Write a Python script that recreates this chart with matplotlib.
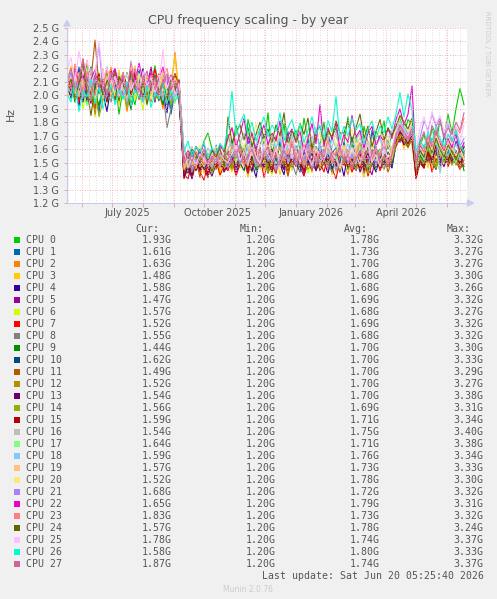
import matplotlib
matplotlib.use("Agg")
import matplotlib.pyplot as plt
import matplotlib.dates as mdates
from matplotlib.patches import Polygon, Rectangle
from datetime import datetime, timedelta

W, H = 497, 599

# sample days counted from 17 May 2025 (400 day window), frequency drop after day 115
start = datetime(2025, 5, 17)
days = list(range(0, 113, 4)) + list(range(117, 398, 4))

# frequencies, in units of 0.01 GHz
cpu0 = [201, 212, 196, 219, 208, 224, 203, 190, 214, 206, 221, 199, 211, 186, 205, 217, 202, 193, 210, 215, 198, 207, 222, 204, 195, 213, 188, 209, 199,
        148, 157, 151, 162, 155, 166, 172, 160, 153, 164, 158,
        171, 160, 178, 165, 153, 182, 169, 158, 175, 163, 187, 156, 170, 161, 179, 152, 168, 174, 159, 183, 166, 155, 172, 162, 180, 157, 169, 176, 150, 165, 184, 161, 170, 154, 177, 164, 158, 173, 167, 181, 160, 171,
        176, 184, 171, 182, 178,
        150, 162, 171, 158, 176, 164, 181, 169, 186, 172, 190, 205, 193]
cpu1 = [213, 198, 207, 221, 202, 194, 216, 209, 187, 211, 203, 218, 196, 208, 214, 200, 191, 206, 219, 204, 197, 212, 201, 215, 193, 208, 186, 203, 211,
        152, 145, 158, 149, 160, 147, 155, 150, 163, 148, 156,
        159, 152, 167, 155, 149, 170, 158, 146, 163, 171, 154, 160, 148, 166, 157, 173, 151, 162, 156, 145, 168, 159, 153, 164, 150, 172, 157, 161, 147, 165, 155, 169, 152, 158, 163, 149, 174, 156, 160, 151, 166, 157,
        172, 165, 179, 170, 176,
        148, 155, 163, 150, 168, 157, 149, 171, 160, 154, 166, 158, 161]
cpu2 = [218, 205, 223, 199, 211, 226, 207, 194, 215, 203, 209, 221, 197, 212, 206, 188, 204, 216, 201, 213, 195, 208, 219, 202, 190, 211, 205, 232, 200,
        146, 154, 141, 150, 157, 144, 152, 148, 159, 143, 151,
        153, 145, 160, 149, 156, 142, 163, 151, 147, 158, 144, 155, 162, 148, 153, 140, 157, 150, 146, 164, 152, 143, 156, 149, 161, 145, 154, 147, 159, 150, 141, 157, 153, 146, 162, 149, 155, 144, 158, 151, 147, 156,
        168, 175, 163, 171, 166,
        146, 158, 151, 163, 149, 170, 156, 152, 165, 159, 148, 161, 163]
cpu3 = [209, 222, 203, 214, 198, 211, 219, 184, 206, 213, 200, 217, 208, 193, 211, 204, 220, 199, 207, 215, 202, 196, 212, 205, 218, 200, 209, 230, 197,
        143, 150, 139, 147, 154, 142, 149, 145, 152, 140, 148,
        150, 143, 157, 146, 152, 139, 155, 148, 161, 144, 151, 147, 158, 141, 153, 149, 145, 156, 150, 142, 159, 147, 153, 144, 150, 157, 141, 152, 146, 155, 149, 143, 160, 148, 139, 154, 151, 145, 157, 147, 152, 148,
        165, 172, 160, 169, 163,
        142, 151, 158, 146, 162, 150, 144, 157, 149, 164, 153, 146, 148]
cpu4 = [198, 211, 205, 192, 217, 203, 209, 196, 214, 201, 188, 207, 215, 199, 210, 204, 193, 212, 206, 220, 200, 208, 195, 213, 202, 187, 209, 216, 203,
        140, 147, 138, 151, 144, 149, 141, 155, 146, 150, 143,
        148, 155, 142, 151, 158, 145, 150, 139, 154, 147, 160, 144, 152, 149, 141, 157, 146, 153, 150, 143, 156, 148, 145, 159, 151, 142, 155, 147, 152, 140, 158, 149, 144, 153, 147, 161, 150, 143, 155, 148, 151, 146,
        164, 170, 167, 162, 171,
        144, 152, 147, 159, 151, 145, 163, 155, 149, 160, 153, 150, 158]
cpu5 = [206, 199, 216, 210, 223, 202, 194, 213, 207, 219, 200, 212, 197, 208, 216, 203, 191, 210, 214, 199, 206, 221, 204, 196, 212, 208, 201, 215, 207,
        141, 148, 139, 153, 145, 150, 142, 156, 147, 151, 144,
        147, 153, 144, 158, 150, 142, 155, 148, 161, 146, 152, 143, 157, 149, 145, 154, 151, 162, 147, 140, 153, 149, 156, 144, 151, 159, 146, 150, 143, 157, 148, 154, 145, 152, 160, 147, 141, 155, 150, 146, 153, 149,
        167, 173, 165, 170, 168,
        146, 154, 150, 161, 147, 156, 165, 152, 158, 149, 155, 151, 147]
cpu6 = [196, 209, 201, 215, 190, 206, 212, 198, 217, 204, 195, 210, 203, 219, 200, 207, 213, 197, 205, 189, 211, 202, 216, 199, 208, 194, 212, 205, 210,
        146, 152, 143, 149, 156, 145, 151, 147, 154, 142, 150,
        151, 146, 157, 149, 143, 155, 150, 160, 145, 152, 148, 141, 156, 151, 147, 158, 144, 153, 149, 155, 142, 150, 157, 146, 152, 148, 159, 143, 151, 154, 147, 156, 145, 150, 153, 141, 157, 149, 152, 146, 155, 150,
        163, 169, 166, 172, 164,
        145, 153, 149, 160, 146, 155, 151, 162, 148, 154, 159, 150, 157]
cpu7 = [214, 202, 219, 195, 209, 216, 204, 189, 211, 207, 198, 218, 205, 200, 213, 194, 208, 215, 201, 210, 196, 206, 220, 203, 199, 212, 204, 214, 200,
        138, 146, 140, 151, 143, 137, 149, 144, 152, 141, 147,
        144, 152, 140, 149, 157, 143, 150, 146, 155, 139, 151, 148, 142, 156, 150, 144, 153, 147, 158, 141, 149, 145, 154, 150, 143, 157, 146, 138, 152, 148, 155, 143, 150, 146, 153, 140, 149, 156, 144, 151, 147, 150,
        162, 168, 164, 170, 166,
        141, 150, 146, 157, 143, 153, 149, 160, 147, 155, 151, 145, 152]
cpu8 = [205, 213, 199, 210, 218, 197, 206, 212, 201, 216, 204, 195, 209, 203, 217, 207, 198, 211, 205, 214, 200, 208, 196, 211, 203, 176, 190, 207, 195,
        145, 151, 142, 148, 155, 146, 152, 143, 150, 147, 154,
        148, 154, 145, 151, 158, 147, 143, 155, 150, 146, 159, 149, 144, 152, 157, 146, 150, 141, 154, 148, 156, 145, 151, 147, 160, 150, 143, 153, 148, 155, 146, 152, 149, 157, 142, 151, 147, 154, 150, 145, 153, 148,
        165, 171, 167, 163, 170,
        145, 152, 148, 158, 151, 146, 161, 153, 149, 157, 150, 147, 155]
cpu9 = [203, 210, 195, 216, 207, 199, 213, 204, 192, 209, 217, 200, 207, 196, 213, 205, 189, 210, 201, 212, 198, 206, 214, 202, 193, 209, 204, 199, 211,
        145, 152, 148, 155, 149, 157, 146, 153, 150, 158, 148,
        152, 158, 146, 155, 161, 149, 156, 144, 153, 160, 148, 155, 151, 163, 146, 154, 157, 149, 152, 145, 158, 150, 162, 147, 155, 151, 156, 148, 153, 159, 145, 154, 150, 157, 148, 162, 151, 146, 155, 149, 158, 152,
        168, 174, 166, 172, 169,
        147, 155, 150, 162, 154, 146, 164, 151, 158, 153, 149, 156, 144]
cpu10 = [209, 198, 214, 205, 195, 211, 221, 203, 208, 197, 212, 206, 219, 201, 209, 204, 194, 212, 206, 199, 215, 203, 210, 196, 208, 213, 200, 205, 198,
         147, 142, 151, 148, 154, 145, 150, 144, 153, 149, 152,
         153, 146, 159, 150, 144, 156, 151, 162, 147, 154, 145, 157, 152, 148, 160, 146, 155, 150, 143, 158, 151, 147, 156, 153, 149, 157, 145, 154, 150, 161, 148, 152, 146, 158, 151, 144, 155, 149, 157, 150, 153, 147,
         166, 172, 168, 164, 173,
         148, 156, 151, 160, 154, 163, 149, 157, 152, 159, 155, 150, 162]
cpu11 = [215, 203, 220, 209, 227, 204, 212, 241, 207, 196, 213, 205, 218, 200, 211, 206, 193, 210, 203, 216, 199, 208, 214, 202, 197, 211, 205, 216, 207,
         142, 149, 144, 152, 139, 155, 147, 151, 145, 153, 148,
         158, 147, 154, 150, 161, 145, 151, 157, 149, 154, 142, 150, 158, 147, 153, 140, 155, 149, 152, 146, 159, 151, 144, 156, 148, 153, 150, 157, 145, 152, 147, 155, 150, 150, 156, 146, 153, 160, 148, 155, 143, 152,
         164, 170, 167, 161, 168,
         139, 150, 146, 158, 151, 162, 147, 155, 150, 157, 153, 146, 149]
cpu12 = [204, 212, 197, 207, 215, 201, 209, 186, 210, 203, 219, 200, 207, 214, 198, 205, 211, 203, 216, 200, 208, 195, 212, 206, 201, 214, 199, 205, 212,
         146, 151, 144, 153, 148, 156, 150, 145, 154, 149, 152,
         151, 147, 155, 161, 148, 152, 145, 157, 150, 154, 147, 159, 149, 153, 146, 155, 151, 152, 157, 148, 154, 150, 159, 146, 153, 160, 149, 155, 147, 152, 158, 150, 145, 156, 151, 148, 157, 153, 146, 154, 149, 158,
         167, 173, 165, 171, 169,
         147, 154, 150, 161, 153, 148, 160, 155, 151, 158, 149, 156, 152]
cpu13 = [207, 200, 213, 218, 204, 196, 209, 215, 202, 208, 197, 212, 205, 216, 201, 209, 195, 220, 203, 199, 211, 206, 214, 200, 208, 193, 210, 204, 199,
         139, 147, 141, 150, 145, 152, 146, 140, 149, 153, 147,
         149, 155, 146, 153, 158, 150, 144, 156, 151, 147, 154, 160, 148, 152, 145, 157, 150, 155, 147, 153, 149, 158, 144, 151, 156, 148, 153, 150, 146, 159, 152, 147, 155, 143, 151, 157, 149, 154, 146, 152, 148, 156,
         166, 172, 163, 170, 167,
         144, 152, 148, 158, 150, 163, 153, 147, 156, 151, 159, 149, 154]
cpu14 = [201, 208, 215, 199, 210, 204, 196, 203, 184, 196, 209, 203, 214, 198, 206, 191, 212, 204, 209, 196, 205, 213, 200, 197, 210, 203, 194, 208, 201,
         145, 150, 143, 151, 147, 153, 148, 142, 150, 155, 146,
         150, 145, 156, 149, 153, 146, 158, 150, 147, 155, 143, 152, 157, 149, 154, 146, 151, 159, 148, 153, 145, 150, 156, 147, 152, 149, 155, 151, 144, 157, 150, 146, 153, 148, 156, 142, 151, 155, 147, 153, 149, 152,
         165, 171, 168, 163, 170,
         145, 153, 149, 159, 152, 146, 161, 150, 156, 148, 154, 151, 156]
cpu15 = [210, 204, 217, 201, 208, 214, 199, 209, 216, 203, 195, 210, 206, 199, 215, 208, 201, 210, 197, 205, 213, 200, 208, 216, 202, 197, 211, 206, 203,
         141, 138, 149, 144, 151, 146, 139, 153, 147, 150, 145,
         146, 153, 149, 157, 151, 145, 155, 160, 148, 154, 151, 143, 158, 150, 156, 147, 153, 159, 149, 145, 155, 152, 157, 148, 154, 152, 158, 148, 155, 161, 147, 153, 150, 157, 144, 154, 159, 150, 147, 156, 152, 160,
         166, 173, 169, 164, 171,
         138, 150, 146, 158, 152, 163, 148, 156, 151, 160, 154, 149, 159]
cpu16 = [205, 216, 209, 199, 213, 207, 220, 202, 210, 197, 208, 215, 204, 211, 198, 206, 212, 201, 207, 213, 196, 209, 203, 215, 200, 207, 211, 198, 206,
         148, 155, 150, 158, 153, 160, 147, 156, 151, 159, 154,
         160, 167, 155, 164, 171, 158, 165, 153, 162, 169, 157, 164, 160, 172, 155, 163, 168, 159, 165, 152, 161, 170, 158, 164, 156, 167, 161, 173, 157, 163, 154, 166, 160, 169, 158, 164, 151, 162, 168, 157, 165, 161,
         172, 179, 174, 170, 177,
         151, 160, 155, 167, 158, 170, 161, 156, 165, 159, 163, 157, 154]
cpu17 = [203, 211, 198, 214, 206, 192, 210, 218, 204, 199, 213, 207, 201, 216, 203, 210, 196, 209, 215, 202, 207, 198, 212, 205, 217, 201, 208, 194, 210,
         149, 156, 151, 147, 154, 159, 152, 146, 155, 150, 157,
         154, 160, 150, 157, 163, 151, 158, 147, 155, 161, 152, 158, 149, 156, 164, 150, 157, 153, 160, 148, 155, 162, 151, 157, 153, 159, 150, 156, 146, 161, 154, 158, 149, 163, 152, 147, 157, 151, 160, 155, 150, 158,
         169, 176, 171, 167, 174,
         148, 157, 152, 163, 155, 166, 158, 153, 161, 156, 150, 159, 164]
cpu18 = [208, 201, 215, 206, 219, 203, 198, 212, 205, 217, 200, 209, 214, 202, 208, 195, 211, 206, 199, 210, 204, 216, 201, 209, 196, 212, 207, 200, 205,
         160, 155, 162, 149, 158, 153, 161, 156, 150, 157, 152,
         160, 168, 155, 165, 172, 159, 167, 162, 175, 157, 165, 170, 161, 168, 154, 163, 171, 160, 166, 158, 169, 162, 176, 159, 165, 156, 168, 161, 171, 157, 164, 153, 167, 172, 160, 166, 163, 163, 170, 158, 166, 174,
         174, 181, 176, 172, 179,
         147, 158, 153, 165, 157, 168, 142, 160, 155, 163, 158, 152, 159]
cpu19 = [212, 205, 219, 201, 210, 216, 204, 196, 211, 207, 214, 200, 209, 217, 203, 198, 213, 222, 208, 204, 215, 201, 210, 206, 218, 199, 212, 204, 208,
         145, 153, 148, 157, 152, 147, 154, 149, 156, 151, 158,
         160, 156, 167, 151, 159, 163, 155, 161, 149, 157, 165, 154, 160, 152, 162, 156, 168, 150, 159, 153, 164, 157, 161, 148, 158, 163, 152, 160, 155, 162, 157, 157, 163, 152, 160, 166, 154, 161, 150, 158, 164, 153,
         171, 178, 173, 168, 176,
         150, 159, 154, 165, 157, 168, 160, 155, 163, 158, 152, 161, 157]
cpu20 = [206, 213, 200, 217, 209, 203, 215, 198, 210, 219, 205, 212, 199, 208, 214, 204, 211, 200, 216, 207, 212, 197, 209, 215, 203, 210, 201, 213, 206,
         158, 153, 161, 156, 163, 150, 159, 154, 162, 157, 151,
         166, 175, 163, 169, 161, 172, 165, 179, 162, 168, 159, 171, 164, 174, 160, 167, 156, 170, 176, 163, 169, 166, 166, 173, 160, 169, 177, 162, 170, 158, 168, 175, 161, 170, 165, 178, 160, 168, 173, 163, 171, 157,
         176, 184, 178, 173, 181,
         153, 162, 157, 168, 160, 171, 163, 158, 166, 161, 155, 160, 152]
cpu21 = [209, 217, 203, 212, 198, 214, 206, 213, 238, 201, 210, 216, 204, 211, 199, 207, 213, 202, 209, 195, 211, 204, 216, 200, 208, 213, 197, 206, 202,
         150, 157, 144, 152, 149, 156, 151, 146, 153, 148, 155,
         146, 154, 160, 149, 156, 152, 163, 147, 155, 159, 151, 157, 145, 153, 161, 150, 156, 148, 158, 152, 164, 146, 155, 150, 160, 153, 157, 144, 154, 159, 149, 156, 151, 158, 153, 153, 159, 148, 156, 162, 150, 157,
         168, 175, 170, 166, 173,
         152, 168, 181, 174, 186, 177, 183, 170, 179, 166, 174, 162, 168]
cpu22 = [214, 206, 220, 209, 216, 201, 212, 219, 205, 211, 198, 214, 220, 207, 213, 203, 218, 209, 224, 211, 206, 217, 202, 213, 221, 208, 215, 204, 211,
         152, 159, 154, 162, 157, 164, 151, 160, 155, 163, 158,
         168, 176, 162, 171, 183, 164, 172, 159, 170, 178, 163, 172, 166, 181, 161, 170, 175, 165, 173, 158, 168, 179, 164, 193, 162, 176, 167, 180, 160, 171, 165, 185, 169, 174, 161, 172, 177, 163, 170, 166, 175, 168,
         182, 190, 178, 186, 207,
         150, 163, 158, 170, 162, 174, 165, 159, 168, 161, 171, 157, 165]
cpu23 = [216, 207, 223, 211, 204, 218, 209, 200, 214, 206, 220, 203, 212, 207, 217, 201, 210, 219, 206, 212, 203, 215, 208, 199, 213, 220, 205, 211, 207,
         150, 158, 153, 147, 154, 149, 157, 151, 159, 146, 155,
         152, 163, 156, 160, 147, 157, 162, 151, 159, 154, 161, 156, 156, 162, 151, 159, 166, 153, 160, 149, 157, 164, 152, 159, 155, 167, 150, 158, 162, 154, 160, 148, 156, 165, 153, 159, 151, 161, 155, 168, 149, 158,
         170, 177, 172, 167, 175,
         151, 164, 158, 170, 163, 174, 166, 160, 171, 165, 176, 172, 183]
cpu24 = [204, 212, 198, 209, 221, 203, 185, 207, 213, 200, 211, 205, 197, 214, 208, 201, 216, 205, 199, 210, 193, 207, 215, 202, 209, 198, 212, 204, 210,
         158, 153, 160, 156, 150, 157, 152, 159, 154, 161, 148,
         184, 164, 173, 178, 167, 176, 162, 171, 180, 168, 175, 165, 178, 170, 187, 163, 174, 166, 179, 171, 183, 160, 172, 177, 165, 174, 169, 181, 172, 172, 181, 165, 176, 186, 168, 177, 162, 173, 182, 167, 176, 170,
         177, 185, 180, 175, 183,
         149, 159, 154, 165, 157, 168, 160, 154, 163, 158, 152, 161, 157]
cpu25 = [219, 228, 210, 233, 215, 226, 208, 217, 240, 212, 221, 206, 214, 199, 209, 216, 204, 211, 200, 218, 207, 213, 202, 210, 234, 205, 214, 201, 209,
         159, 146, 154, 149, 156, 153, 148, 155, 150, 157, 152,
         150, 157, 163, 152, 158, 148, 161, 155, 149, 164, 156, 151, 160, 147, 158, 165, 153, 159, 150, 162, 154, 148, 160, 156, 151, 163, 157, 153, 146, 159, 152, 161, 155, 149, 158, 163, 150, 156, 147, 160, 154, 157,
         172, 179, 174, 170, 177,
         157, 176, 184, 171, 188, 179, 185, 172, 181, 170, 177, 165, 178]
cpu26 = [201, 195, 209, 188, 203, 199, 212, 194, 206, 190, 201, 208, 193, 205, 197, 210, 192, 204, 199, 195, 207, 191, 202, 198, 209, 194, 203, 196, 200,
         158, 166, 155, 162, 158, 165, 153, 161, 157, 164, 160,
         176, 203, 170, 179, 186, 171, 180, 166, 176, 184, 169, 178, 173, 187, 166, 176, 182, 170, 179, 165, 174, 184, 171, 178, 168, 181, 173, 199, 167, 177, 170, 183, 174, 179, 164, 175, 181, 168, 177, 172, 184, 175,
         186, 202, 184, 201, 189,
         158, 167, 161, 173, 165, 177, 168, 162, 171, 166, 174, 163, 158]
cpu27 = [211, 220, 205, 214, 227, 209, 198, 215, 207, 212, 200, 217, 209, 204, 214, 202, 225, 208, 203, 211, 218, 206, 213, 200, 209, 216, 204, 210, 203,
         149, 156, 151, 158, 153, 160, 147, 155, 150, 157, 154,
         158, 150, 156, 163, 149, 155, 160, 152, 147, 157, 162, 151, 155, 148, 159, 153, 164, 150, 156, 146, 154, 160, 149, 157, 152, 147, 158, 155, 161, 150, 156, 145, 153, 159, 151, 148, 157, 162, 150, 155, 147, 156,
         171, 178, 173, 168, 176,
         148, 165, 173, 161, 178, 170, 182, 168, 176, 171, 180, 174, 187]

series = [cpu0, cpu1, cpu2, cpu3, cpu4, cpu5, cpu6, cpu7, cpu8, cpu9, cpu10, cpu11, cpu12, cpu13,
          cpu14, cpu15, cpu16, cpu17, cpu18, cpu19, cpu20, cpu21, cpu22, cpu23, cpu24, cpu25, cpu26, cpu27]
labels = ["CPU %d" % i for i in range(28)]

colors = ["#00CC00", "#0066B3", "#FF8000", "#FFCC00", "#330099", "#990099", "#CCFF00", "#FF0000",
          "#808080", "#008F00", "#00487D", "#B35A00", "#B38F00", "#6B006B", "#8FB300", "#B30000",
          "#BEBEBE", "#80FF80", "#80C9FF", "#FFC080", "#FFE680", "#AA80FF", "#EE00CC", "#FF8080",
          "#666600", "#FFBFFF", "#00FFCC", "#CC6699"]

cur = [1.93, 1.61, 1.63, 1.48, 1.58, 1.47, 1.57, 1.52, 1.55, 1.44, 1.62, 1.49, 1.52, 1.54,
       1.56, 1.59, 1.54, 1.64, 1.59, 1.57, 1.52, 1.68, 1.65, 1.83, 1.57, 1.78, 1.58, 1.87]
mins = [1.20] * 28
avgs = [1.78, 1.73, 1.70, 1.68, 1.68, 1.69, 1.68, 1.69, 1.68, 1.70, 1.70, 1.70, 1.70, 1.70,
        1.69, 1.71, 1.75, 1.71, 1.76, 1.73, 1.78, 1.72, 1.79, 1.73, 1.78, 1.74, 1.80, 1.74]
maxs = [3.32, 3.27, 3.27, 3.30, 3.26, 3.32, 3.27, 3.32, 3.32, 3.30, 3.33, 3.29, 3.27, 3.38,
        3.31, 3.34, 3.40, 3.38, 3.34, 3.33, 3.30, 3.32, 3.31, 3.32, 3.24, 3.37, 3.33, 3.37]

yticks = [1.2, 1.3, 1.4, 1.5, 1.6, 1.7, 1.8, 1.9, 2.0, 2.1, 2.2, 2.3, 2.4, 2.5]
month_labels = [(datetime(2025, 7, 16), "July 2025"), (datetime(2025, 10, 15), "October 2025"),
                (datetime(2026, 1, 16), "January 2026"), (datetime(2026, 4, 16), "April 2026")]

TXT = "#555555"
MGRID = "#e8a0a0"
GRID = "#d4d4d4"
AXIS = "#c8ccf0"


def fx(x):
    return x / W


def fy(y):
    return 1 - y / H


fig = plt.figure(figsize=(W / 100, H / 100), dpi=100, facecolor="#f0f0f0")
ax = fig.add_axes([fx(67), fy(203), 400 / W, 175 / H])
ax.set_facecolor("white")

dates = [start + timedelta(days=d) for d in days]
for vals, col in zip(series, colors):
    ax.plot(dates, [v / 100 for v in vals], color=col, lw=0.8)

ax.set_xlim(start, start + timedelta(days=400))
ax.set_ylim(1.2, 2.5)

ax.xaxis.set_major_locator(mdates.MonthLocator())
ax.xaxis.set_minor_locator(mdates.WeekdayLocator(byweekday=mdates.SU))
ax.xaxis.set_major_formatter(plt.NullFormatter())
ax.set_yticks(yticks)
ax.set_yticklabels(["%.1f G" % v for v in yticks])

# rrdtool draws the grid over the data
ax.set_axisbelow(False)
ax.grid(which="minor", axis="x", color=GRID, ls=(0, (1, 2)), lw=0.6)
ax.grid(which="major", axis="x", color=MGRID, ls=(0, (1, 2)), lw=0.6)
ax.grid(which="major", axis="y", color=MGRID, ls=(0, (1, 2)), lw=0.6)
ax.tick_params(axis="x", which="major", length=3, width=0.6, color=MGRID, direction="out")
ax.tick_params(axis="x", which="minor", length=0)
ax.tick_params(axis="y", length=2, width=0.6, color=MGRID, labelsize=7, labelcolor=TXT, pad=4)

for s in ["top", "right"]:
    ax.spines[s].set_visible(False)
for s in ["left", "bottom"]:
    ax.spines[s].set_color(AXIS)
    ax.spines[s].set_linewidth(0.8)

for d, lab in month_labels:
    ax.text(d, (203 - 215.5) / 175, lab, transform=ax.get_xaxis_transform(),
            ha="center", va="baseline", fontsize=7, color=TXT)

# axis arrows
fig.patches.append(Polygon([(fx(64), fy(26)), (fx(70), fy(26)), (fx(67), fy(20.5))],
                           closed=True, transform=fig.transFigure, color=AXIS))
fig.patches.append(Polygon([(fx(467.5), fy(200)), (fx(467.5), fy(206)), (fx(473.5), fy(203))],
                           closed=True, transform=fig.transFigure, color=AXIS))

fig.text(fx(248.5), fy(24), "CPU frequency scaling - by year", ha="center", va="baseline",
         fontsize=9, color=TXT)
fig.text(fx(11), fy(114), "Hz", rotation=90, ha="center", va="center", fontsize=7.8, color=TXT)
fig.text(fx(487.5), fy(53.5), "RRDTOOL / TOBI OETIKER", rotation=270, ha="center", va="center",
         fontsize=4.8, color="#cccccc")

# legend
mono = dict(family="DejaVu Sans Mono", fontsize=7.1, color=TXT)
hdr_x = [159.5, 263.5, 367.5, 471]
val_x = [171.5, 275.5, 379.5, 483.5]
for x, h in zip(hdr_x, ["Cur:", "Min:", "Avg:", "Max:"]):
    fig.text(fx(x), fy(231.5), h, ha="right", va="baseline", **mono)

for i, lab in enumerate(labels):
    base = 243 + 12 * i
    fig.patches.append(Rectangle((fx(14), fy(base)), 6 / W, 6 / H,
                                 transform=fig.transFigure, color=colors[i], lw=0))
    fig.text(fx(26), fy(base), lab, ha="left", va="baseline", **mono)
    for x, v in zip(val_x, [cur[i], mins[i], avgs[i], maxs[i]]):
        fig.text(fx(x), fy(base), "%.2fG" % v, ha="right", va="baseline", **mono)

fig.text(fx(483.5), fy(579), "Last update: Sat Jun 20 05:25:40 2026", ha="right", va="baseline", **mono)
fig.text(fx(248), fy(591.5), "Munin 2.0.76", ha="center", va="baseline", fontsize=5.5, color="#cccccc")

fig.savefig("out.png", dpi=100, facecolor=fig.get_facecolor())
